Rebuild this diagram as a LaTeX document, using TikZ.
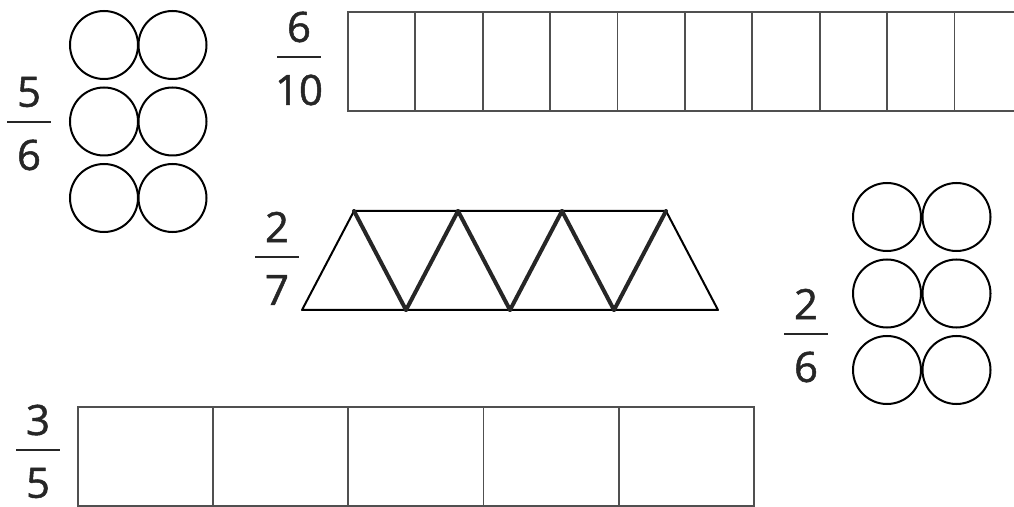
\documentclass[tikz,border=0pt]{standalone}
\usepackage{fontspec}
\setmainfont{Open Sans}
\newfontfamily\digitfont[FakeBold=1.2]{Open Sans}
\usetikzlibrary{positioning}
\definecolor{inkgray}{HTML}{262626}
\definecolor{linegray}{HTML}{505050}

% fraction label: name, x, y of the bar, numerator, denominator
\newcommand{\fracmark}[5]{%
  \node[num] (#1n) at (#2,#3-30) {#4};
  \draw[bar] (#2-22,#3) -- (#2+22,#3);
  \node[num] (#1d) at (#2,#3+33) {#5};
}

\begin{document}
\begin{tikzpicture}[x=1bp, y=-1bp,
    font=\digitfont\fontsize{42}{42}\selectfont, % grosse Ziffern wie im Bild
    disc/.style={draw=black, line width=2bp, circle, minimum size=68bp, inner sep=0pt},
    cell/.style={draw=linegray, line width=1.8bp, rectangle, anchor=north west, inner sep=0pt},
    tri/.style={draw=black, line width=2bp, line join=round},
    seam/.style={draw=black!85, line width=4bp, line cap=round},
    num/.style={text=inkgray, inner sep=0pt},
    bar/.style={draw=inkgray, line width=2.6bp}
]
\useasboundingbox (0,0) rectangle (1014,507);
\clip (0,0) rectangle (1014,507);

% 1. Kreise links oben (5/6)
\foreach \r in {1,2,3}
  \foreach \c in {1,2}
    \node[disc] (l\r\c) at ({104+68.5*(\c-1)},{45+76.5*(\r-1)}) {};
\fracmark{fa}{29}{122}{5}{6}

% 2. Zehnerstreifen oben (6/10)
\foreach \i in {0,...,9}
  \node[cell, minimum width=67.4bp, minimum height=99bp] (t\i) at ({347+67.4*\i},11) {};
\fracmark{fb}{299}{57}{6}{10}

% 3. Dreiecke (2/7)
\foreach \i in {0,...,3}
  \draw[tri] ({302+104*\i},310) -- ({406+104*\i},310) -- ({354+104*\i},211) -- cycle;
\foreach \i in {0,...,2}
  \draw[tri] ({354+104*\i},211) -- ({458+104*\i},211) -- ({406+104*\i},310) -- cycle;
% gemeinsame Kanten doppelt so dick
\foreach \i in {0,...,2} {
  \draw[seam] ({354+104*\i},211) -- ({406+104*\i},310);
  \draw[seam] ({406+104*\i},310) -- ({458+104*\i},211);
}
\fracmark{fc}{277}{257}{2}{7}

% 4. Kreise rechts (2/6)
\foreach \r in {1,2,3}
  \foreach \c in {1,2}
    \node[disc] (r\r\c) at ({887+69.5*(\c-1)},{217+76.5*(\r-1)}) {};
\fracmark{fd}{806}{334}{2}{6}

% 5. Fuenferstreifen unten (3/5)
\foreach \i in {0,...,4}
  \node[cell, minimum width=135.2bp, minimum height=99bp] (b\i) at ({77+135.2*\i},406) {};
\fracmark{fe}{38}{450}{3}{5}

\end{tikzpicture}
\end{document}
